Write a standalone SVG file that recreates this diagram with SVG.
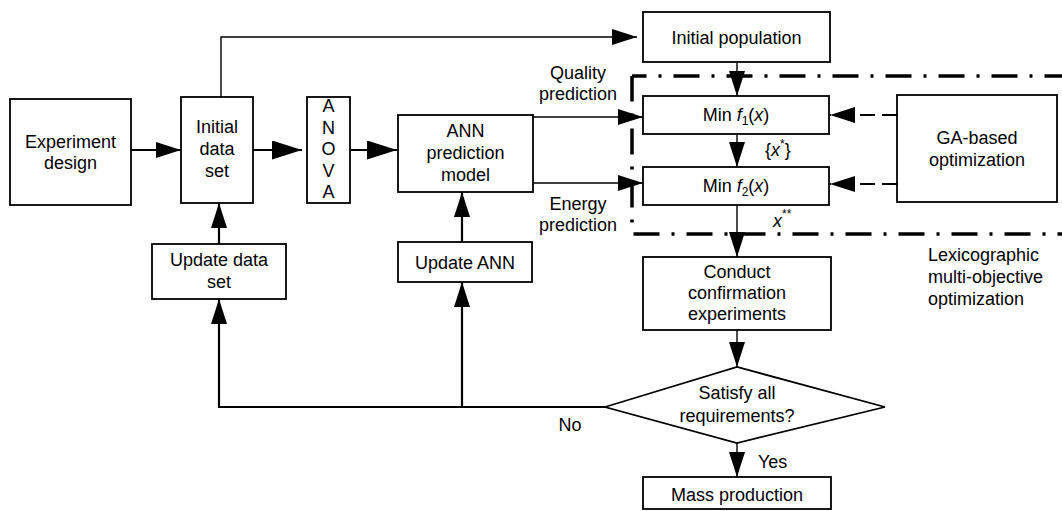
<svg xmlns="http://www.w3.org/2000/svg" width="1062" height="511" viewBox="0 0 1062 511">
<defs>
<style>
text{font-family:"Liberation Sans",Arial,sans-serif;font-size:18px;fill:#000}
.c{text-anchor:middle}
.box{fill:#fff;stroke:#000;stroke-width:1.8}
.ln{fill:none;stroke:#000;stroke-width:1.4}
.thk{fill:none;stroke:#000;stroke-width:2.2}
.dash{fill:none;stroke:#000;stroke-width:2;stroke-dasharray:15 7}
.frame{fill:none;stroke:#000;stroke-width:3.5;stroke-dasharray:26 12 3 12}
.it{font-style:italic}
.sub{font-size:12px}
</style>
<marker id="arr" markerUnits="userSpaceOnUse" markerWidth="25" markerHeight="16" refX="25" refY="8" orient="auto">
<path d="M0,0 L25,8 L0,16 Z" fill="#000"/>
</marker>
<marker id="arrL" markerUnits="userSpaceOnUse" markerWidth="30" markerHeight="19" refX="30" refY="9.5" orient="auto">
<path d="M0,0 L30,9.5 L0,19 Z" fill="#000"/>
</marker>
</defs>

<g id="frame">
<path class="frame" d="M632,76 H1062" stroke-dashoffset="11.5"/>
<path class="frame" d="M632,76 V234" stroke-dashoffset="0.5"/>
<path class="frame" d="M632,234 H1062" stroke-dashoffset="-1.5"/>
</g>

<g id="exp"><rect class="box" x="10" y="99" width="121" height="106"/>
<text class="c" x="70.5" y="148">Experiment</text><text class="c" x="70.5" y="169">design</text></g>

<g id="init"><rect class="box" x="181" y="97" width="72" height="106"/>
<text class="c" x="217" y="133">Initial</text><text class="c" x="217" y="155">data</text><text class="c" x="217" y="177">set</text></g>

<g id="anova"><rect class="box" x="307" y="97" width="43" height="106"/>
<text class="c" x="328.5" y="112">A</text><text class="c" x="328.5" y="133.5">N</text><text class="c" x="328.5" y="155">O</text><text class="c" x="328.5" y="176.5">V</text><text class="c" x="328.5" y="198">A</text></g>

<g id="ann"><rect class="box" x="398" y="115" width="135" height="77"/>
<text class="c" x="465.5" y="137">ANN</text><text class="c" x="465.5" y="159">prediction</text><text class="c" x="465.5" y="181">model</text></g>

<g id="initpop"><rect class="box" x="643" y="12" width="187" height="50"/>
<text class="c" x="736.5" y="43.5">Initial population</text></g>

<g id="f1"><rect class="box" x="643" y="96" width="186" height="38"/>
<text class="c" x="736" y="121">Min <tspan class="it">f</tspan><tspan class="sub" dy="4">1</tspan><tspan dy="-4">(</tspan><tspan class="it">x</tspan>)</text></g>

<g id="f2"><rect class="box" x="643" y="167" width="186" height="38"/>
<text class="c" x="736" y="192">Min <tspan class="it">f</tspan><tspan class="sub" dy="4">2</tspan><tspan dy="-4">(</tspan><tspan class="it">x</tspan>)</text></g>

<g id="ga"><rect class="box" x="897" y="95" width="160" height="107"/>
<text class="c" x="977" y="143.5">GA-based</text><text class="c" x="977" y="165.5">optimization</text></g>

<g id="upd"><rect class="box" x="152" y="244" width="134" height="55"/>
<text class="c" x="219" y="266">Update data</text><text class="c" x="219" y="287.5">set</text></g>

<g id="updann"><rect class="box" x="398" y="242" width="134" height="40"/>
<text class="c" x="465" y="269">Update ANN</text></g>

<g id="conduct"><rect class="box" x="643" y="257" width="188" height="73"/>
<text class="c" x="737" y="277.5">Conduct</text><text class="c" x="737" y="299">confirmation</text><text class="c" x="737" y="320">experiments</text></g>

<g id="decision"><polygon class="box" points="605,407 737,367 885,407 737,443"/>
<text class="c" x="737" y="399">Satisfy all</text><text class="c" x="737" y="422">requirements?</text></g>

<g id="mass"><rect class="box" x="643" y="477" width="188" height="32"/>
<text class="c" x="737" y="501">Mass production</text></g>

<g id="labels">
<text class="c" x="578" y="79">Quality</text><text class="c" x="578" y="100">prediction</text>
<text class="c" x="578" y="210">Energy</text><text class="c" x="578" y="231">prediction</text>
<text x="765" y="156">{<tspan class="it">x</tspan><tspan class="sub" dy="-8">*</tspan><tspan dy="8">}</tspan></text>
<text x="773" y="227"><tspan class="it">x</tspan><tspan class="sub" dy="-9">**</tspan></text>
<text x="928" y="260.5">Lexicographic</text><text x="928" y="283">multi-objective</text><text x="928" y="304.5">optimization</text>
<text class="c" x="570" y="431">No</text>
<text x="758" y="468">Yes</text>
</g>

<g id="connectors">
<path class="thk" d="M131,150 H181" marker-end="url(#arr)"/>
<path class="thk" d="M253,150 H302" stroke-width="3" marker-end="url(#arrL)"/>
<path class="thk" d="M350,150 H397" stroke-width="3" marker-end="url(#arrL)"/>
<path class="ln" d="M221,97 V37 H637" marker-end="url(#arr)"/>
<path class="ln" d="M533,117 H643" marker-end="url(#arr)"/>
<path class="ln" d="M533,183 H643" marker-end="url(#arr)"/>
<path class="ln" d="M737,62 V96" marker-end="url(#arr)"/>
<path class="ln" d="M737,134 V167" marker-end="url(#arr)"/>
<path class="ln" d="M737,205 V257" marker-end="url(#arr)"/>
<path class="dash" d="M897,115 H830" marker-end="url(#arr)"/>
<path class="dash" d="M897,184 H830" marker-end="url(#arr)"/>
<path class="ln" d="M737,330 V367" marker-end="url(#arr)"/>
<path class="ln" d="M737,443 V477" marker-end="url(#arr)"/>
<path class="thk" d="M605,407 H219 V299" marker-end="url(#arr)"/>
<path class="thk" d="M462,407 V282" marker-end="url(#arr)"/>
<path class="thk" d="M219,244 V203" marker-end="url(#arr)"/>
<path class="thk" d="M462,242 V192" marker-end="url(#arr)"/>
</g>
</svg>
